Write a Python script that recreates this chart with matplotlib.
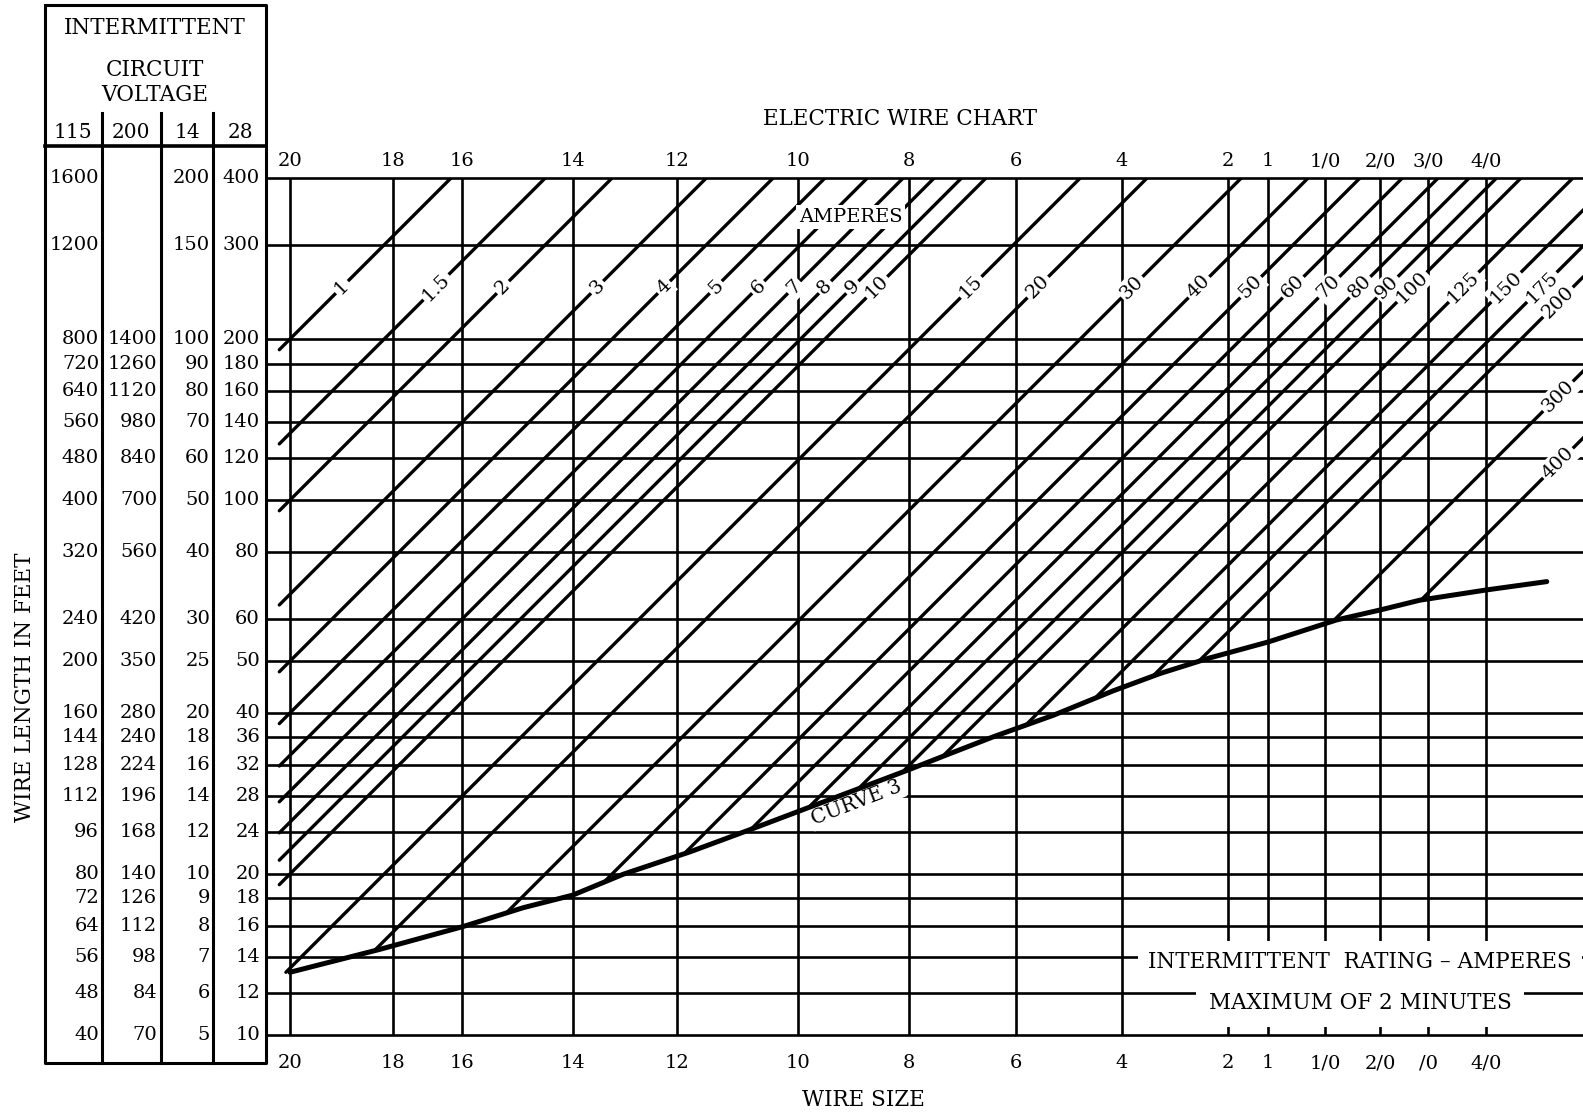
import numpy as np
import matplotlib.pyplot as plt
from matplotlib.lines import Line2D
from matplotlib.transforms import blended_transform_factory

plt.rcParams['font.family'] = 'DejaVu Serif'

# wire sizes and their place on the chart scale (relative conductor area, wire 20 = 1)
wire_sizes = ['20', '18', '16', '14', '12', '10', '8', '6', '4', '2', '1', '1/0', '2/0', '3/0', '4/0']
wire_sizes_bottom = ['20', '18', '16', '14', '12', '10', '8', '6', '4', '2', '1', '1/0', '2/0', '/0', '4/0']
wire_area = [1.0, 1.557, 2.097, 3.381, 5.289, 8.90, 14.36, 22.75, 35.9, 56.7, 67.3, 86.0, 109.0, 134.0, 172.0]

# wire length rows, one list per circuit voltage
len_28 = [400, 300, 200, 180, 160, 140, 120, 100, 80, 60, 50, 40, 36, 32, 28, 24, 20, 18, 16, 14, 12, 10]
len_14 = [200, 150, 100, 90, 80, 70, 60, 50, 40, 30, 25, 20, 18, 16, 14, 12, 10, 9, 8, 7, 6, 5]
len_115 = [1600, 1200, 800, 720, 640, 560, 480, 400, 320, 240, 200, 160, 144, 128, 112, 96, 80, 72, 64, 56, 48, 40]
len_200 = ['', '', 1400, 1260, 1120, 980, 840, 700, 560, 420, 350, 280, 240, 224, 196, 168, 140, 126, 112, 98, 84, 70]
volt_heads = ['115', '200', '14', '28']

# ampere lines: length = k_len * area / amps
amps = [1, 1.5, 2, 3, 4, 5, 6, 7, 8, 9, 10, 15, 20, 30, 40, 50, 60, 70, 80, 90, 100,
        125, 150, 175, 200, 300, 400]
k_len = 200

# curve 3 (lower limit)
curve_area = [1.0, 1.473, 2.102, 2.73, 3.377, 4.198, 5.594, 7.24, 14.31, 16.89, 20.64, 26.72,
              34.58, 42.29, 52.05, 67.4, 90.46, 109.0, 129.5, 172.0, 223.4]
curve_len = [13.1, 14.46, 15.94, 17.3, 18.26, 19.98, 22.0, 24.2, 31.3, 33.4, 36.1, 39.6,
             44.0, 47.4, 50.6, 54.3, 59.7, 62.3, 65.0, 67.9, 70.4]

W, H = 1583, 1116
fig = plt.figure(figsize=(W / 100, H / 100), dpi=100)


def fx(x):
    return x / W


def fy(y):
    return 1 - y / H


ax = fig.add_axes([fx(266), fy(1035), 1 - fx(266), (1035 - 178) / H])
ax.set_xscale('log')
ax.set_yscale('log')
ax.set_xlim(10 ** ((266 - 290) / 535), 10 ** ((1583 - 290) / 535))
ax.set_ylim(10, 400)
ax.axis('off')

lw_grid = 1.9
for v in len_28:
    ax.axhline(v, color='k', lw=lw_grid, clip_on=False, zorder=1)
for a in wire_area:
    ax.axvline(a, color='k', lw=lw_grid, zorder=1)

# ampere lines, from left edge or curve 3 up to 400 ft
la = np.log10(curve_area)
lc = np.log10(curve_len)
x_start = 10 ** -0.02
grid = np.linspace(np.log10(x_start), la[-1], 3000)
for I in amps:
    g = np.log10(k_len) + grid - np.log10(I) - np.interp(grid, la, lc)
    a0 = x_start if g[0] >= 0 else 10 ** np.interp(0, g, grid)
    a1 = 400 * I / k_len
    ax.plot([a0, a1], [k_len * a0 / I, k_len * a1 / I], color='k', lw=2.4,
            solid_capstyle='round', zorder=3)
    a_lab = min(250 * I / k_len, 10 ** ((1558 - 290) / 535))
    ax.text(a_lab, k_len * a_lab / I, f'{I:g}', rotation=45, rotation_mode='anchor',
            ha='center', va='center', fontsize=14,
            bbox=dict(boxstyle='square,pad=0.12', fc='white', ec='none'), zorder=4)

ax.plot(curve_area, curve_len, color='k', lw=3.6, solid_capstyle='round', zorder=5)
a_c = 11.3
ax.text(a_c, 10 ** np.interp(np.log10(a_c), la, lc) * 0.985, 'CURVE 3', rotation=21,
        rotation_mode='anchor', ha='center', va='top', fontsize=14.5,
        bbox=dict(boxstyle='square,pad=0.1', fc='white', ec='none'), zorder=4)

tx = ax.get_xaxis_transform()
for a, s_top, s_bot in zip(wire_area, wire_sizes, wire_sizes_bottom):
    ax.text(a, 1 + 17 / 857, s_top, transform=tx, ha='center', va='center', fontsize=14)
    ax.text(a, -28 / 857, s_bot, transform=tx, ha='center', va='center', fontsize=14)

ax.text(0.444, 0.9545, 'AMPERES', transform=ax.transAxes, ha='center', va='center',
        fontsize=14, bbox=dict(boxstyle='square,pad=0.15', fc='white', ec='none'), zorder=4)
ax.text(0.8307, 0.0852, 'INTERMITTENT  RATING – AMPERES', transform=ax.transAxes,
        ha='center', va='center', fontsize=15.5,
        bbox=dict(boxstyle='square,pad=0.45', fc='white', ec='none'), zorder=4)
ax.text(0.8307, 0.0373, 'MAXIMUM OF 2 MINUTES', transform=ax.transAxes,
        ha='center', va='center', fontsize=15.5,
        bbox=dict(boxstyle='square,pad=0.6', fc='white', ec='none'), zorder=4)

fig.text(fx(900), fy(119), 'ELECTRIC WIRE CHART', ha='center', va='center', fontsize=15.5)
fig.text(fx(863), fy(1100), 'WIRE SIZE', ha='center', va='center', fontsize=15.5)
fig.text(fx(25), fy(687), 'WIRE LENGTH IN FEET', rotation=90, ha='center', va='center',
         fontsize=15.5)

# left table of circuit voltages
def fig_line(xs, ys, lw=2.2):
    fig.add_artist(Line2D([fx(x) for x in xs], [fy(y) for y in ys],
                          transform=fig.transFigure, color='k', lw=lw))


fig_line([45, 266, 266, 45, 45], [5, 5, 1063, 1063, 5])
fig_line([45, 266], [146, 146], lw=2.6)
for xd in [102, 161, 213]:
    fig_line([xd, xd], [113, 1063])

fig.text(fx(155), fy(28), 'INTERMITTENT', ha='center', va='center', fontsize=15.5)
fig.text(fx(155), fy(70), 'CIRCUIT', ha='center', va='center', fontsize=15.5)
fig.text(fx(155), fy(95), 'VOLTAGE', ha='center', va='center', fontsize=15.5)
for xc, s in zip([73, 131, 187, 240], volt_heads):
    fig.text(fx(xc), fy(133), s, ha='center', va='center', fontsize=14.5)

ty = blended_transform_factory(fig.transFigure, ax.transData)
for col, xr in zip([len_115, len_200, len_14, len_28], [99, 157, 210, 260]):
    for v, s in zip(len_28, col):
        ax.text(fx(xr), v, str(s), transform=ty, ha='right', va='center', fontsize=14,
                clip_on=False)

fig.savefig('out.png', dpi=100, facecolor='white')
